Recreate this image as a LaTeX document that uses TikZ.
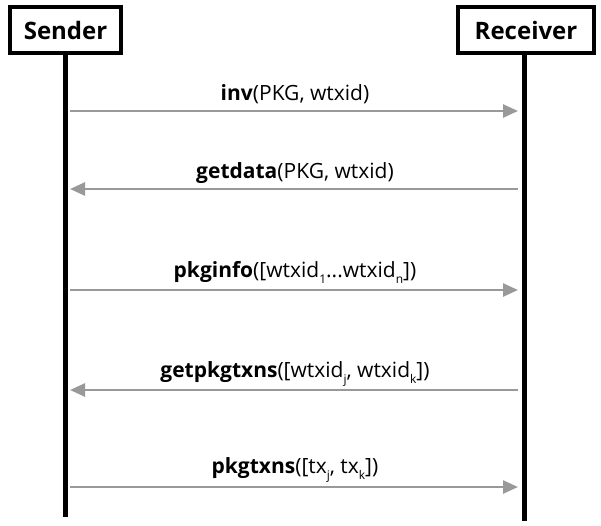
\documentclass[tikz,border=0pt]{standalone}
\usepackage{fontspec}
\setmainfont{Open Sans}
\usetikzlibrary{arrows.meta}
\definecolor{msg}{HTML}{999999}
\newcommand{\sbx}[1]{\raisebox{-6pt}{\fontsize{12}{12}\selectfont #1}}
\tikzset{
  actor/.style={draw=black, line width=3.5pt, minimum width=111pt, minimum height=46pt, inner sep=0pt, font=\fontsize{24}{28}\selectfont\bfseries},
  life/.style={line width=4.5pt, black},
  msgline/.style={draw=msg, line width=2.5pt, -{Triangle[length=15pt,width=13pt]}},
  lbl/.style={anchor=base, inner sep=0pt, font=\fontsize{21}{24}\selectfont}
}
\begin{document}
\begin{tikzpicture}[x=1pt,y=-1pt]
\useasboundingbox (0,0) rectangle (601,525);
\node[actor] (s) at (65.5,30) {Sender};
\node[actor, minimum width=136pt] (r) at (526,30) {Receiver};
\coordinate (sb) at (65.5,517);
\coordinate (rb) at (524.5,521);
\draw[life] (s.south) -- (sb);
\draw[life] (r.south -| rb) -- (rb);
% messages
\coordinate (s1) at (70,111); \coordinate (r1) at (518,111);
\coordinate (s2) at (70,189); \coordinate (r2) at (518,189);
\coordinate (s3) at (70,290); \coordinate (r3) at (518,290);
\coordinate (s4) at (70,390); \coordinate (r4) at (518,390);
\coordinate (s5) at (70,487); \coordinate (r5) at (518,487);
\draw[msgline] (s1) -- (r1);
\draw[msgline] (r2) -- (s2);
\draw[msgline] (s3) -- (r3);
\draw[msgline] (r4) -- (s4);
\draw[msgline] (s5) -- (r5);
\node[lbl] (l1) at (295,100) {\textbf{inv}(PKG, wtxid)};
\node[lbl] (l2) at (295,178) {\textbf{getdata}(PKG, wtxid)};
\node[lbl] (l3) at (295,277) {\textbf{pkginfo}([wtxid\sbx{1}...wtxid\sbx{n}])};
\node[lbl] (l4) at (295,377) {\textbf{getpkgtxns}([wtxid\sbx{j}, wtxid\sbx{k}])};
\node[lbl] (l5) at (295,473) {\textbf{pkgtxns}([tx\sbx{j}, tx\sbx{k}])};
\end{tikzpicture}
\end{document}
